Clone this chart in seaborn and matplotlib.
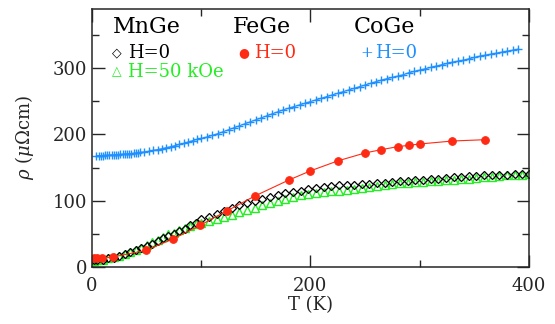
import matplotlib
matplotlib.use("Agg")
import matplotlib.pyplot as plt
import seaborn as sns
import numpy as np
from matplotlib.ticker import MultipleLocator

# ---------------- data ----------------
mn_T_low = [2, 5, 10, 15, 20, 25, 30, 35, 40, 45, 50, 55, 60, 65, 70, 75, 80, 85, 90, 95, 100]
mn_T_high = [107, 114, 121, 128, 135, 142, 149, 156, 163, 170, 177, 184, 191, 198, 205, 212,
             219, 226, 233, 240, 247, 254, 261, 268, 275, 282, 289, 296, 303, 310, 317, 324,
             331, 338, 345, 352, 359, 366, 373, 380, 387, 394, 400]
mn_T = mn_T_low + mn_T_high

mn_h0 = [10, 10, 11, 13, 14, 16, 19, 22, 25, 28, 31, 35, 39, 43, 46, 50, 54, 58, 63, 67, 72,
         76, 80, 85, 89, 93, 96, 100, 103, 106, 109, 111, 113, 115, 118, 119, 121, 122, 123,
         123.5, 124, 125, 125.5, 126, 127, 128, 129, 130, 131, 131.5, 132, 133, 134, 135, 136,
         136.5, 137, 138, 138, 139, 139, 139.5, 140, 140]

mn_h50 = [9, 10, 11, 13, 15, 17, 20, 23, 26, 29, 33, 37, 41, 45, 49, 52, 56, 59, 62, 65, 67,
          70, 72, 76, 79, 83, 86, 89, 93, 97, 100, 103, 105, 108, 110, 111, 113, 114, 115,
          116, 118, 119, 121, 122, 123, 125, 126, 127, 128, 128.5, 129, 130, 130.5, 131, 132,
          133, 134, 135, 136, 137, 138, 138.5, 139, 139.5]

fe_T = [2, 5, 9, 19, 49, 74, 99, 124, 149, 180, 200, 225, 250, 265, 280, 290, 300, 330, 360]
fe_rho = [13, 13, 13, 15, 25, 42, 63, 85, 107, 131, 145, 160, 172, 177, 181.5, 183.5, 185.5, 190, 192]

co_T = [4, 6, 8, 10, 12, 14, 16, 18, 20, 22, 24, 26, 28, 30, 32, 34, 36, 38, 40, 42, 44,
        48, 52, 56, 60, 64, 68, 72, 76, 80, 84, 88, 92, 96,
        100, 105, 110, 115, 120, 125, 130, 135, 140, 145, 150, 155, 160, 165, 170, 175, 180,
        185, 190, 195, 200, 205, 210, 215, 220, 225, 230, 235, 240, 245, 250, 255, 260, 265,
        270, 275, 280, 285, 290, 295, 300, 305, 310, 315, 320, 325, 330, 335, 340, 345, 350,
        355, 360, 365, 370, 375, 380, 385, 390]
co_rho = [168, 168, 168, 168, 168.5, 168.5, 169, 169, 169, 169.5, 169.5, 170, 170, 170.5, 170.5,
          171, 171, 171.5, 172, 172, 173,
          173.5, 174.5, 176, 177, 178.5, 180, 181.5, 183, 185, 186.5, 188.5, 190.5, 192.5,
          194, 196, 198.5, 201, 204, 207, 210, 213, 216, 219, 222, 225, 228, 231, 234, 237,
          239.5, 242, 244.5, 247, 249.5, 252, 254.5, 257, 259.5, 262, 264.5, 267, 269.5, 272,
          274.5, 277, 279.5, 282, 284, 286, 288, 290, 293, 295, 297, 299, 301, 303, 305, 307,
          309, 310.5, 312, 314, 316, 318, 319.5, 321, 322.5, 324, 325.5, 327, 328.5]

x_ticks = [0, 200, 400]
y_ticks = [0, 100, 200, 300]

# ---------------- style ----------------
sns.set_theme(style="ticks")
plt.rcParams['font.family'] = ['DejaVu Serif', 'DejaVu Sans']
plt.rcParams['mathtext.fontset'] = 'dejavuserif'

BLUE = "#1e90ff"
RED = "#ff2a14"
GREEN = "#22ee22"

fig = plt.figure(figsize=(5.55, 3.24), dpi=100)
ax = fig.add_axes([0.1658, 0.176, 0.7872, 0.796])

sns.lineplot(x=co_T, y=co_rho, ax=ax, color=BLUE, linewidth=0.8, marker='+',
             markersize=6, markeredgewidth=1.0, markeredgecolor=BLUE, sort=False)
sns.lineplot(x=mn_T, y=mn_h50, ax=ax, color=GREEN, linestyle='', marker='^',
             markersize=5.5, markerfacecolor='none', markeredgecolor=GREEN,
             markeredgewidth=1.0, sort=False)
sns.lineplot(x=mn_T, y=mn_h0, ax=ax, color='black', linestyle='', marker='D',
             markersize=4.3, markerfacecolor='none', markeredgecolor='black',
             markeredgewidth=0.9, sort=False)
sns.lineplot(x=fe_T, y=fe_rho, ax=ax, color=RED, linewidth=0.8, marker='o',
             markersize=5.5, markerfacecolor=RED, markeredgecolor=RED, sort=False)

ax.set_xlim(0, 400)
ax.set_ylim(0, 389)
ax.set_xticks(x_ticks)
ax.set_yticks(y_ticks)
ax.xaxis.set_minor_locator(MultipleLocator(100))
ax.yaxis.set_minor_locator(MultipleLocator(50))
ax.tick_params(which='both', direction='in', top=True, right=True, labelsize=13, width=1.0)
ax.tick_params(which='major', length=9)
ax.tick_params(which='minor', length=5)
ax.tick_params(axis='x', pad=7)
for s in ax.spines.values():
    s.set_linewidth(1.1)

ax.set_xlabel("T (K)", fontsize=13, labelpad=1)
ax.set_ylabel(r"$\rho$ ($\mu\Omega$cm)", fontsize=13, labelpad=12)

# legend-like annotations
tr = ax.transAxes
def ax_xy(px, py):
    return ((px - 92) / 437.0, (267 - py) / 258.0)

for name, px in [("MnGe", 113), ("FeGe", 233), ("CoGe", 354)]:
    ax.text(*ax_xy(px, 27), name, transform=tr, fontsize=16, va='center', ha='left', color='black')

ax.text(*ax_xy(112, 53), "◇", transform=tr, fontsize=9, va='center', ha='left', color='black')
ax.text(*ax_xy(128, 53), "H=0", transform=tr, fontsize=13, va='center', ha='left', color='black')
ax.text(*ax_xy(238, 53), "●", transform=tr, fontsize=9, va='center', ha='left', color=RED)
ax.text(*ax_xy(254, 53), "H=0", transform=tr, fontsize=13, va='center', ha='left', color=RED)
ax.text(*ax_xy(360, 53), "+", transform=tr, fontsize=11, va='center', ha='left', color=BLUE)
ax.text(*ax_xy(375, 53), "H=0", transform=tr, fontsize=13, va='center', ha='left', color=BLUE)
ax.text(*ax_xy(112, 72), "△", transform=tr, fontsize=9, va='center', ha='left', color=GREEN)
ax.text(*ax_xy(128, 72), "H=50 kOe", transform=tr, fontsize=13, va='center', ha='left', color=GREEN)

fig.savefig("out.png", dpi=100)
